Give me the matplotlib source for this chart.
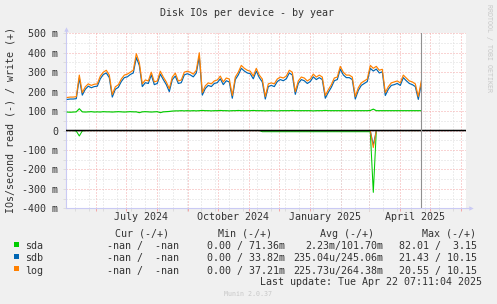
import matplotlib
matplotlib.use("Agg")
import matplotlib.pyplot as plt
import matplotlib.dates as mdates
import matplotlib.transforms as mtransforms
from matplotlib.patches import Rectangle
from matplotlib.ticker import MultipleLocator, FuncFormatter, NullFormatter
import pandas as pd

plt.rcParams['font.family'] = ['DejaVu Sans Mono']

# time axis (munin year graph, daily averages, one point every 3 days here)
now = pd.Timestamp('2025-04-22 07:11:04')
x_start = pd.Timestamp('2024-05-02 00:00')
x_end = pd.Timestamp('2025-06-06 00:00')
first_point = pd.Timestamp('2024-05-03 07:11')

# write IOs/s in milli units (positive side)
log_write = [
    170, 172, 172, 174, 285, 195, 225, 240, 232, 238,
    240, 280, 300, 310, 285, 185, 225, 235, 265, 285,
    290, 300, 310, 395, 350, 240, 260, 255, 300, 250,
    255, 305, 275, 250, 215, 275, 295, 255, 260, 300,
    305, 300, 290, 310, 400, 195, 230, 245, 240, 255,
    260, 280, 250, 270, 265, 180, 275, 300, 335, 320,
    310, 305, 280, 320, 285, 265, 175, 240, 245, 240,
    265, 275, 270, 280, 310, 300, 200, 255, 275, 270,
    255, 265, 290, 275, 285, 275, 180, 210, 235, 270,
    275, 330, 300, 285, 285, 275, 175, 220, 245, 255,
    265, 335, 320, 330, 310, 315, 195, 225, 245, 250,
    255, 245, 285, 270, 255, 250, 240, 175, 255,
]
sdb_write = [
    160, 162, 162, 164, 270, 182, 212, 228, 220, 226,
    228, 266, 288, 296, 272, 172, 212, 222, 252, 272,
    276, 288, 296, 375, 335, 226, 246, 242, 286, 236,
    242, 290, 262, 236, 200, 262, 280, 242, 246, 286,
    292, 286, 276, 296, 380, 182, 216, 232, 226, 242,
    246, 266, 236, 256, 250, 166, 262, 286, 320, 306,
    296, 292, 266, 306, 272, 250, 162, 226, 232, 226,
    252, 262, 256, 266, 296, 286, 186, 242, 262, 256,
    242, 252, 276, 262, 272, 262, 166, 196, 222, 256,
    262, 316, 286, 272, 272, 262, 162, 206, 232, 242,
    252, 320, 306, 316, 296, 302, 180, 212, 232, 236,
    242, 232, 272, 256, 242, 236, 226, 160, 240,
]
sda_write = [
    95, 94, 95, 96, 112, 96, 95, 96, 97, 95,
    96, 95, 97, 96, 96, 95, 96, 97, 96, 95,
    96, 97, 96, 96, 92, 96, 97, 96, 95, 96,
    97, 92, 96, 97, 98, 100, 101, 101, 102, 101,
    102, 101, 102, 101, 102, 103, 102, 102, 101, 102,
    102, 103, 102, 102, 101, 102, 102, 103, 102, 102,
    102, 102, 103, 102, 102, 102, 101, 102, 102, 102,
    101, 102, 102, 102, 102, 103, 102, 102, 102, 102,
    102, 102, 101, 102, 102, 102, 103, 102, 102, 102,
    102, 102, 102, 102, 102, 102, 102, 102, 102, 102,
    102, 103, 110, 102, 102, 102, 102, 102, 102, 102,
    102, 102, 102, 102, 102, 102, 102, 102, 102,
]

# read IOs/s (drawn on the negative side)
sda_read = [
    0, 0, 0, -3, -28, -2, 0, 0, 0, 0,
    0, 0, 0, 0, 0, 0, 0, 0, 0, 0,
    0, 0, 0, 0, 0, 0, 0, 0, 0, 0,
    0, 0, 0, 0, 0, 0, 0, 0, 0, 0,
    0, 0, 0, 0, 0, 0, 0, 0, 0, 0,
    0, 0, 0, 0, 0, 0, 0, 0, 0, 0,
    0, 0, 0, 0, 0, -6, -6, -6, -6, -6,
    -6, -6, -6, -6, -6, -6, -6, -6, -6, -6,
    -6, -6, -6, -6, -6, -6, -6, -6, -6, -6,
    -6, -6, -6, -6, -6, -6, -6, -6, -6, -6,
    -6, -6, -318, 0, 0, 0, 0, 0, 0, 0,
    0, 0, 0, 0, 0, 0, 0, 0, 0,
]
sdb_read = [
    0, 0, 0, 0, 0, 0, 0, 0, 0, 0,
    0, 0, 0, 0, 0, 0, 0, 0, 0, 0,
    0, 0, 0, 0, 0, 0, 0, 0, 0, 0,
    0, 0, 0, 0, 0, 0, 0, 0, 0, 0,
    0, 0, 0, 0, 0, 0, 0, 0, 0, 0,
    0, 0, 0, 0, 0, 0, 0, 0, 0, 0,
    0, 0, 0, 0, 0, 0, 0, 0, 0, 0,
    0, 0, 0, 0, 0, 0, 0, 0, 0, 0,
    0, 0, 0, 0, 0, 0, 0, 0, 0, 0,
    0, 0, 0, 0, 0, 0, 0, 0, 0, 0,
    0, 0, -75, 0, 0, 0, 0, 0, 0, 0,
    0, 0, 0, 0, 0, 0, 0, 0, 0,
]
log_read = [
    0, 0, 0, 0, 0, 0, 0, 0, 0, 0,
    0, 0, 0, 0, 0, 0, 0, 0, 0, 0,
    0, 0, 0, 0, 0, 0, 0, 0, 0, 0,
    0, 0, 0, 0, 0, 0, 0, 0, 0, 0,
    0, 0, 0, 0, 0, 0, 0, 0, 0, 0,
    0, 0, 0, 0, 0, 0, 0, 0, 0, 0,
    0, 0, 0, 0, 0, 0, 0, 0, 0, 0,
    0, 0, 0, 0, 0, 0, 0, 0, 0, 0,
    0, 0, 0, 0, 0, 0, 0, 0, 0, 0,
    0, 0, 0, 0, 0, 0, 0, 0, 0, 0,
    0, 0, -88, 0, 0, 0, 0, 0, 0, 0,
    0, 0, 0, 0, 0, 0, 0, 0, 0,
]

devices = ['sda', 'sdb', 'log']
colors = ['#00CC00', '#0066B3', '#FF8000']
cur_col = ['-nan /  -nan', '-nan /  -nan', '-nan /  -nan']
min_col = ['0.00 / 71.36m', '0.00 / 33.82m', '0.00 / 37.21m']
avg_col = ['2.23m/101.70m', '235.04u/245.06m', '225.73u/264.38m']
max_col = ['82.01 /  3.15', '21.43 / 10.15', '20.55 / 10.15']

label_dates = ['2024-07-16', '2024-10-16', '2025-01-16', '2025-04-16']
label_texts = ['July 2024', 'October 2024', 'January 2025', 'April 2025']

W, H = 497, 304
TXT = '#333333'
FS = 7.2
RED = '#F4A8A8'
GREY = '#DCDCDC'
AXIS = '#CACAF4'


def fx(x):
    return x / W


def fy(y):
    return 1 - y / H


fig = plt.figure(figsize=(W / 100, H / 100), dpi=100, facecolor='#F0F0F0')
ax = fig.add_axes([fx(66), fy(208.3), 400 / W, 175 / H])
ax.set_facecolor('white')

dates = pd.date_range(first_point, periods=len(log_write), freq='3D')
writes = [sda_write, sdb_write, log_write]
reads = [sda_read, sdb_read, log_read]
for w, r, c in zip(writes, reads, colors):
    ax.plot(dates, w, color=c, lw=0.85, zorder=3)
    ax.plot(dates, r, color=c, lw=0.75, zorder=3, snap=False)

# zero line drawn over the near-zero read series
ax.axhline(0, color='black', lw=1.1, zorder=5, snap=False)
ax.axvline(now, color='#909090', lw=0.8, zorder=5)

ax.set_xlim(x_start, x_end)
ax.set_ylim(-400, 500)

# grid: monthly red, two-weekly grey, 100 m red, 50 m grey
ax.xaxis.set_major_locator(mdates.MonthLocator())
ax.set_xticks(pd.date_range('2024-05-11 08:00', x_end, freq='14D'), minor=True)
ax.xaxis.set_major_formatter(NullFormatter())
ax.xaxis.set_minor_formatter(NullFormatter())
ax.yaxis.set_major_locator(MultipleLocator(100))
ax.yaxis.set_minor_locator(MultipleLocator(50))
ax.yaxis.set_major_formatter(FuncFormatter(
    lambda v, p: '0' if v == 0 else f'{v:.0f} m'))
ax.set_axisbelow(True)
ax.grid(which='minor', color=GREY, ls=(0, (1, 2)), lw=0.72)
ax.grid(which='major', color=RED, ls=(0, (1, 2)), lw=0.72)
ax.tick_params(axis='x', which='major', length=2, width=0.72,
               color=RED, direction='out')
ax.tick_params(axis='x', which='minor', length=2, width=0.72,
               color=GREY, direction='out')
ax.tick_params(axis='y', which='both', length=2, width=0.72,
               color=GREY, pad=3.4, labelsize=FS, labelcolor=TXT)

for side in ['top', 'right']:
    ax.spines[side].set_visible(False)
for side in ['left', 'bottom']:
    ax.spines[side].set_color(AXIS)
    ax.spines[side].set_linewidth(0.8)
ax.plot([0, 0], [1, 1.015], transform=ax.transAxes, color=AXIS,
        lw=0.8, clip_on=False)
ax.plot([1, 1.01], [0, 0], transform=ax.transAxes, color=AXIS,
        lw=0.8, clip_on=False)
ax.plot([0], [1.026], transform=ax.transAxes, marker='^', ms=3.2,
        color=AXIS, mec='none', clip_on=False)
ax.plot([1.012], [0], transform=ax.transAxes, marker='>', ms=3.2,
        color=AXIS, mec='none', clip_on=False)

trans = mtransforms.blended_transform_factory(ax.transData, ax.transAxes)
for d, t in zip(label_dates, label_texts):
    ax.text(pd.Timestamp(d), (208.3 - 220) / 175, t, transform=trans,
            ha='center', va='baseline', fontsize=FS, color=TXT)

fig.text(fx(247), fy(12.5), 'Disk IOs per device - by year', ha='center',
         va='center', fontsize=FS, color=TXT)
fig.text(fx(10.5), fy(120), 'IOs/second read (-) / write (+)', rotation=90,
         ha='center', va='center', fontsize=FS, color=TXT)
fig.text(fx(489.5), fy(48.5), 'RRDTOOL / TOBI OETIKER', rotation=270,
         ha='center', va='center', fontsize=4.8, color='#C8C8C8')

# legend block
head_y = 236.8
fig.text(fx(169), fy(head_y), 'Cur (-/+)', ha='right', va='baseline',
         fontsize=FS, color=TXT)
fig.text(fx(272.3), fy(head_y), 'Min (-/+)', ha='right', va='baseline',
         fontsize=FS, color=TXT)
fig.text(fx(373.5), fy(head_y), 'Avg (-/+)', ha='right', va='baseline',
         fontsize=FS, color=TXT)
fig.text(fx(476.5), fy(head_y), 'Max (-/+)', ha='right', va='baseline',
         fontsize=FS, color=TXT)

for i, name in enumerate(devices):
    base = 249.2 + 12.2 * i
    fig.add_artist(Rectangle((fx(14), fy(base - 2.6)), 5 / W, 5 / H,
                             transform=fig.transFigure, facecolor=colors[i],
                             edgecolor='none'))
    fig.text(fx(25.5), fy(base), name, ha='left', va='baseline',
             fontsize=FS, color=TXT)
    fig.text(fx(179), fy(base), cur_col[i], ha='right', va='baseline',
             fontsize=FS, color=TXT)
    fig.text(fx(284.6), fy(base), min_col[i], ha='right', va='baseline',
             fontsize=FS, color=TXT)
    fig.text(fx(383), fy(base), avg_col[i], ha='right', va='baseline',
             fontsize=FS, color=TXT)
    fig.text(fx(477.2), fy(base), max_col[i], ha='right', va='baseline',
             fontsize=FS, color=TXT)

fig.text(fx(482.5), fy(284.8), 'Last update: Tue Apr 22 07:11:04 2025',
         ha='right', va='baseline', fontsize=FS, color=TXT)
fig.text(fx(248), fy(296), 'Munin 2.0.37', ha='center', va='baseline',
         fontsize=4.8, color='#C8C8C8')

fig.savefig('out.png', dpi=100, facecolor=fig.get_facecolor())
